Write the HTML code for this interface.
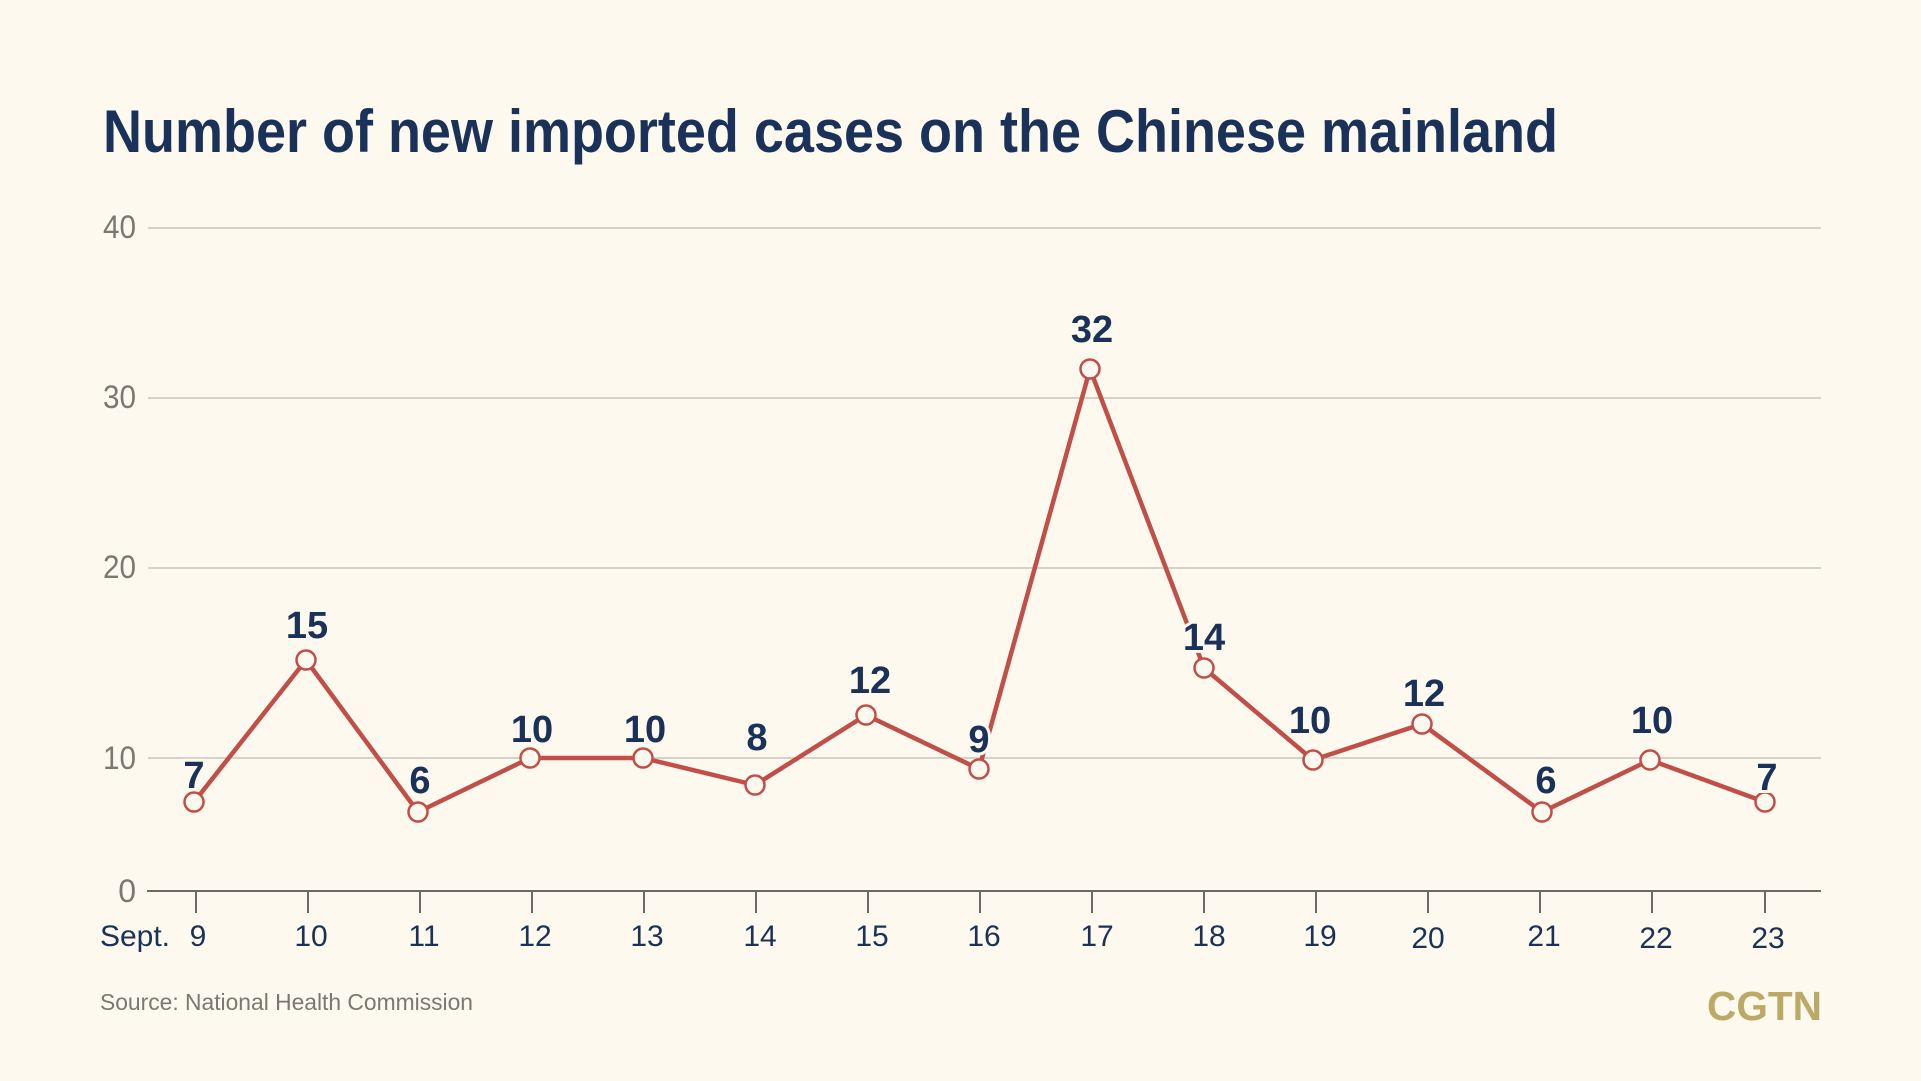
<!DOCTYPE html>
<html><head><meta charset="utf-8"><style>
html,body{margin:0;padding:0;background:#fdf9ee;}
svg{display:block;}
</style></head><body>
<svg width="1921" height="1081" viewBox="0 0 1921 1081" xmlns="http://www.w3.org/2000/svg">
<rect width="1921" height="1081" fill="#fdf9ee"/>
<text x="103" y="152" font-family="Liberation Sans, sans-serif" font-weight="bold" font-size="60" fill="#1a3159" textLength="1455" lengthAdjust="spacingAndGlyphs">Number of new imported cases on the Chinese mainland</text>
<g stroke="#c9c6ba" stroke-width="1.5">
<line x1="148" y1="228" x2="1821" y2="228"/>
<line x1="148" y1="398" x2="1821" y2="398"/>
<line x1="148" y1="568" x2="1821" y2="568"/>
<line x1="148" y1="758" x2="1821" y2="758"/>
</g>
<line x1="147" y1="891" x2="1821" y2="891" stroke="#6b6b66" stroke-width="2"/>
<g font-family="Liberation Sans, sans-serif" font-size="32" fill="#7a7870" text-anchor="end">
<text x="136" y="238" textLength="33" lengthAdjust="spacingAndGlyphs">40</text>
<text x="136" y="408" textLength="33" lengthAdjust="spacingAndGlyphs">30</text>
<text x="136" y="578" textLength="33" lengthAdjust="spacingAndGlyphs">20</text>
<text x="136" y="769" textLength="33" lengthAdjust="spacingAndGlyphs">10</text>
<text x="136" y="902">0</text>
</g>
<g stroke="#6b6b66" stroke-width="2">
<line x1="196" y1="891" x2="196" y2="913"/><line x1="308" y1="891" x2="308" y2="913"/><line x1="420" y1="891" x2="420" y2="913"/><line x1="532" y1="891" x2="532" y2="913"/><line x1="644" y1="891" x2="644" y2="913"/><line x1="756" y1="891" x2="756" y2="913"/><line x1="868" y1="891" x2="868" y2="913"/><line x1="980" y1="891" x2="980" y2="913"/><line x1="1092" y1="891" x2="1092" y2="913"/><line x1="1204" y1="891" x2="1204" y2="913"/><line x1="1316" y1="891" x2="1316" y2="913"/><line x1="1428" y1="891" x2="1428" y2="913"/><line x1="1540" y1="891" x2="1540" y2="913"/><line x1="1652" y1="891" x2="1652" y2="913"/><line x1="1765" y1="891" x2="1765" y2="913"/>
</g>
<g font-family="Liberation Sans, sans-serif" font-size="30" fill="#1a3159" text-anchor="middle">
<text x="135" y="946">Sept.</text>
<text x="198" y="946">9</text><text x="311" y="946">10</text><text x="424" y="946">11</text><text x="535" y="946">12</text><text x="647" y="946">13</text><text x="760" y="946">14</text><text x="872" y="946">15</text><text x="984" y="946">16</text><text x="1097" y="946">17</text><text x="1209" y="946">18</text><text x="1320" y="946">19</text><text x="1428" y="948">20</text><text x="1544" y="946">21</text><text x="1656" y="948">22</text><text x="1768" y="948">23</text>
</g>
<polyline fill="none" stroke="#c24f47" stroke-width="4.5" stroke-linejoin="round" points="194,802 306,660 418,812 530,758 643,758 755,785 866,715 979,769 1090,369 1204,668 1313,760 1422,724 1542,812 1650,760 1765,802"/>
<g fill="#fdf9ee" stroke="#c24f47" stroke-width="2.5">
<circle cx="194" cy="802" r="9.5"/><circle cx="306" cy="660" r="9.5"/><circle cx="418" cy="812" r="9.5"/><circle cx="530" cy="758" r="9.5"/><circle cx="643" cy="758" r="9.5"/><circle cx="755" cy="785" r="9.5"/><circle cx="866" cy="715" r="9.5"/><circle cx="979" cy="769" r="9.5"/><circle cx="1090" cy="369" r="9.5"/><circle cx="1204" cy="668" r="9.5"/><circle cx="1313" cy="760" r="9.5"/><circle cx="1422" cy="724" r="9.5"/><circle cx="1542" cy="812" r="9.5"/><circle cx="1650" cy="760" r="9.5"/><circle cx="1765" cy="802" r="9.5"/>
</g>
<g font-family="Liberation Sans, sans-serif" font-weight="bold" font-size="38" fill="#1a3159" text-anchor="middle" stroke="#fdf9ee" stroke-width="6" paint-order="stroke">
<text x="194" y="788">7</text><text x="307" y="638">15</text><text x="420" y="793">6</text><text x="532" y="742">10</text><text x="645" y="742">10</text><text x="757" y="750">8</text><text x="870" y="693">12</text><text x="979" y="752">9</text><text x="1092" y="342">32</text><text x="1204" y="650">14</text><text x="1310" y="733">10</text><text x="1424" y="706">12</text><text x="1546" y="793">6</text><text x="1652" y="733">10</text><text x="1767" y="790">7</text>
</g>
<text x="100" y="1010" font-family="Liberation Sans, sans-serif" font-size="23" fill="#7a7870" textLength="373" lengthAdjust="spacingAndGlyphs">Source: National Health Commission</text>
<text x="1707" y="1020" font-family="Liberation Sans, sans-serif" font-weight="bold" font-size="41" fill="#bca965" textLength="115" lengthAdjust="spacingAndGlyphs">CGTN</text>
</svg>
</body></html>
